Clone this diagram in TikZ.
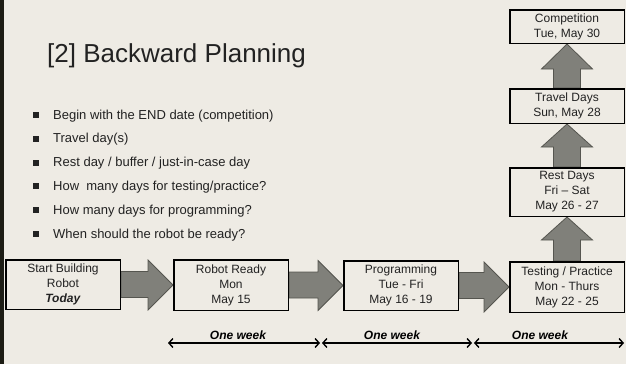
\documentclass[tikz,border=0pt]{standalone}
\usepackage{fontspec}
\setmainfont{Liberation Sans}
\usetikzlibrary{arrows.meta,backgrounds,calc}
\definecolor{bg}{HTML}{EEEBE4}
\definecolor{bar}{HTML}{1C1C14}
\definecolor{arrfill}{HTML}{80807A}
\definecolor{arrline}{HTML}{55554F}
\definecolor{txt}{HTML}{222222}
\newcommand\hblockarrow[3]{%
  \draw[barrow] ([yshift=13pt]#1.east) -| ([xshift=-#3pt,yshift=25pt]#2.west) -- (#2.west)
    -- ([xshift=-#3pt,yshift=-25pt]#2.west) |- ([yshift=-13pt]#1.east) -- cycle;}
\newcommand\vblockarrow[3]{%
  \draw[barrow] ([xshift=-13.5pt]#1.north) |- ([xshift=-25.5pt,yshift=-#3pt]#2.south) -- (#2.south)
    -- ([xshift=25.5pt,yshift=-#3pt]#2.south) -| ([xshift=13.5pt]#1.north) -- cycle;}
\begin{document}
\begin{tikzpicture}[x=1pt,y=-1pt,
  box/.style={draw=black, line width=1.5pt, fill=bg, rectangle, minimum width=114.5pt,
    align=center, inner sep=0pt, font=\fontsize{12}{15}\selectfont, text=txt},
  barrow/.style={fill=arrfill, draw=arrline, line width=0.8pt, line join=miter},
  week/.style={line width=1.4pt, {Straight Barb[length=4pt,width=9pt]}-{Straight Barb[length=4pt,width=9pt]}},
  wlabel/.style={font=\fontsize{12}{13}\selectfont\bfseries\itshape, inner sep=0pt, text=black},
  bul/.style={fill=txt, minimum size=6pt, inner sep=0pt, rectangle},
  btext/.style={anchor=base west, font=\fontsize{13}{15}\selectfont, inner sep=0pt, text=txt}
]
\useasboundingbox (0,0) rectangle (626,364);
\begin{scope}[on background layer]
  \fill[bg] (0,0) rectangle (626,364);
  \fill[bar] (0,0) rectangle (4,364);
\end{scope}

% title
\node[anchor=base west, inner sep=0pt, font=\fontsize{26}{30}\selectfont, text=txt] (title) at (47,62) {[2] Backward Planning};

% bullets
\foreach \i/\t in {0/{Begin with the END date (competition)},
                   1/{Travel day(s)},
                   2/{Rest day / buffer / just-in-case day},
                   3/{How\ \ many days for testing/practice?},
                   4/{How many days for programming?},
                   5/{When should the robot be ready?}}{
  \node[bul] (b\i) at (36,{115+23.8*\i}) {};
  \node[btext] (t\i) at (53,{119+23.8*\i}) {\t};
}

% boxes
\node[box, minimum height=49.5pt] (start) at (63,284.5) {Start Building\\Robot\\\textbf{\textit{Today}}};
\node[box, minimum height=50.5pt] (ready) at (231,285) {Robot Ready\\Mon\\May 15};
\node[box, minimum height=49.5pt] (prog) at (401,285.5) {Programming\\Tue - Fri\\May 16 - 19};
\node[box, minimum height=50.5pt] (test) at (567,287) {Testing / Practice\\Mon - Thurs\\May 22 - 25};
\node[box, minimum height=48.5pt] (rest) at (567,192) {Rest Days\\Fri – Sat\\May 26 - 27};
\node[box, minimum height=34.5pt] (travel) at (567,106) {Travel Days\\Sun, May 28};
\node[box, minimum height=33.5pt] (comp) at (567,26.5) {Competition\\Tue, May 30};

% block arrows
\begin{scope}[on background layer]
  \hblockarrow{start}{ready}{25}
  \hblockarrow{ready}{prog}{25}
  \hblockarrow{prog}{test}{25}
  \vblockarrow{test}{rest}{23}
  \vblockarrow{rest}{travel}{23}
  \vblockarrow{travel}{comp}{25}
\end{scope}

% week spans
\coordinate (w1a) at (168,343);
\coordinate (w1b) at (320,343);
\coordinate (w2a) at (322,343);
\coordinate (w2b) at (472,343);
\coordinate (w3a) at (474,343);
\coordinate (w3b) at (624,343);
\draw[week] (w1a) -- (w1b);
\draw[week] (w2a) -- (w2b);
\draw[week] (w3a) -- (w3b);
\node[wlabel] (l1) at (238,335) {One week};
\node[wlabel] (l2) at (392,335) {One week};
\node[wlabel] (l3) at (540,335) {One week};
\end{tikzpicture}
\end{document}
